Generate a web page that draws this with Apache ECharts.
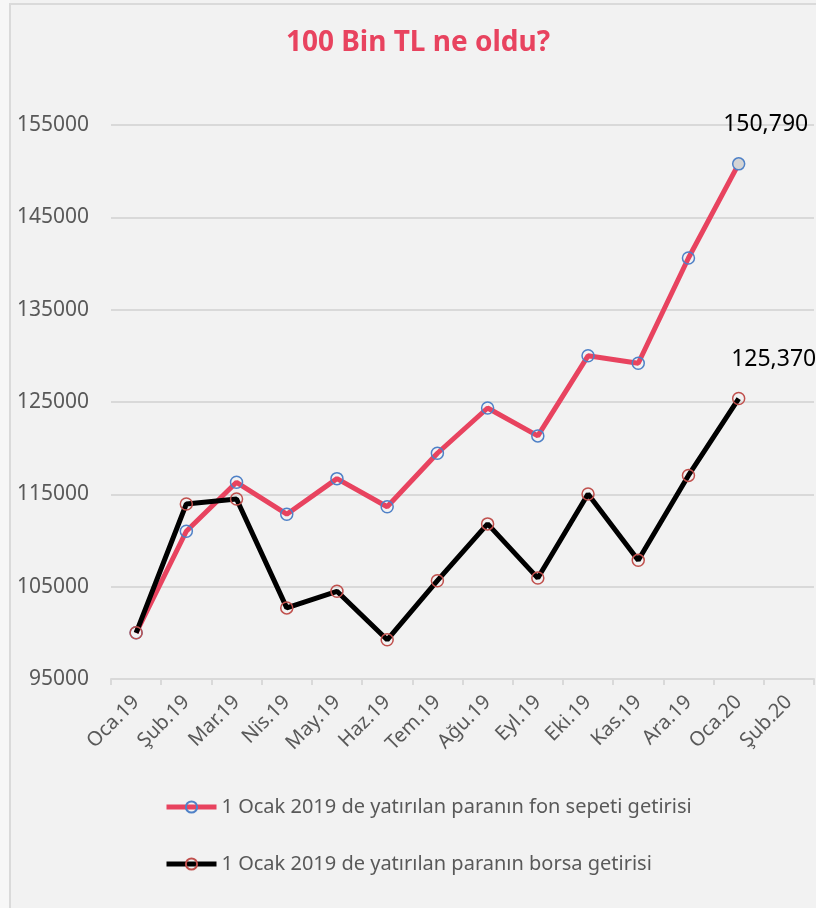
<!DOCTYPE html>
<html>
<head>
<meta charset="utf-8">
<script src="https://cdn.jsdelivr.net/npm/echarts@6/dist/echarts.min.js"></script>
<style>
  html, body { margin: 0; padding: 0; background: #f7f7f7; }
  #strip { position: absolute; left: 0; top: 0; width: 10px; height: 908px; background: #f7f7f7; }
  #chart { position: absolute; left: 0; top: 0; width: 816px; height: 908px; background: #f2f2f2; }
  #frame { position: absolute; left: 9px; top: 3px; width: 807px; height: 905px;
           border-left: 2px solid #dadada; border-top: 2px solid #dadada; box-sizing: border-box; pointer-events: none; }
</style>
</head>
<body>
<div id="chart"></div>
<div id="strip"></div>
<div id="frame"></div>
<script>
// aylar (kategori ekseni)
const months = ['Oca.19', 'Şub.19', 'Mar.19', 'Nis.19', 'May.19', 'Haz.19', 'Tem.19',
  'Ağu.19', 'Eyl.19', 'Eki.19', 'Kas.19', 'Ara.19', 'Oca.20', 'Şub.20']

// fon sepeti getirisi
const fonValues = [100000, 111000, 116300, 112850, 116700, 113650, 119450,
  124350, 121330, 130000, 129200, 140600, 150790]

// borsa getirisi
const borsaValues = [100000, 113950, 114500, 102700, 104500, 99250, 105650,
  111800, 105930, 115040, 107850, 117050, 125370]

const fonName = '1 Ocak 2019 de yatırılan paranın fon sepeti getirisi'
const borsaName = '1 Ocak 2019 de yatırılan paranın borsa getirisi'

const font = 'Noto Sans'
const gray = '#595959'
const red = '#e8435f'

// son noktaya etiket koy
const withLastLabel = (arr, offset, lastItemStyle) => arr.map((v, i) => {
  if (i !== arr.length - 1) return v
  const item = {
    value: v,
    label: {
      show: true,
      position: 'top',
      offset: offset,
      color: '#000',
      fontFamily: font,
      fontSize: 23,
      formatter: p => p.value.toLocaleString('en-US')
    }
  }
  if (lastItemStyle) item.itemStyle = lastItemStyle
  return item
})

const chart = echarts.init(document.getElementById('chart'))

const option = {
  backgroundColor: '#f2f2f2',
  animation: false,
  title: {
    text: '100 Bin TL ne oldu?',
    left: 413,
    textAlign: 'center',
    top: 24,
    textStyle: { color: red, fontFamily: font, fontSize: 28, fontWeight: 'bold' }
  },
  legend: {
    orient: 'vertical',
    left: 159,
    top: 792,
    itemGap: 37,
    itemWidth: 50,
    itemHeight: 14,
    lineStyle: { width: 5 },
    textStyle: { color: gray, fontFamily: font, fontSize: 20 },
    data: [fonName, borsaName]
  },
  grid: { left: 111, right: 2, top: 125, bottom: 229 },
  xAxis: {
    type: 'category',
    data: months,
    boundaryGap: true,
    axisLine: { lineStyle: { color: '#d9d9d9', width: 2 } },
    axisTick: { show: true, length: 6, lineStyle: { color: '#d9d9d9', width: 2 } },
    axisLabel: { interval: 0, rotate: 45, margin: 20, color: gray, fontFamily: font, fontSize: 20 }
  },
  yAxis: {
    type: 'value',
    min: 95000,
    max: 155000,
    interval: 10000,
    axisLine: { show: false },
    axisTick: { show: false },
    splitLine: { lineStyle: { color: '#d9d9d9', width: 2 } },
    axisLabel: { margin: 22, color: gray, fontFamily: font, fontSize: 21, formatter: v => String(v) }
  },
  series: [
    {
      name: fonName,
      type: 'line',
      data: withLastLabel(fonValues, [27, -16], { color: '#d4d4d4', borderColor: '#4f81c7', borderWidth: 1.5 }),
      symbol: 'circle',
      symbolSize: 12,
      lineStyle: { color: red, width: 5 },
      itemStyle: { color: 'rgba(0,0,0,0)', borderColor: '#4f81c7', borderWidth: 1.5 },
      z: 2
    },
    {
      name: borsaName,
      type: 'line',
      data: withLastLabel(borsaValues, [35, -16]),
      symbol: 'circle',
      symbolSize: 12,
      lineStyle: { color: '#000', width: 5 },
      itemStyle: { color: 'rgba(0,0,0,0)', borderColor: '#c0504d', borderWidth: 1.5 },
      z: 3
    }
  ]
}

chart.setOption(option)
</script>
</body>
</html>
